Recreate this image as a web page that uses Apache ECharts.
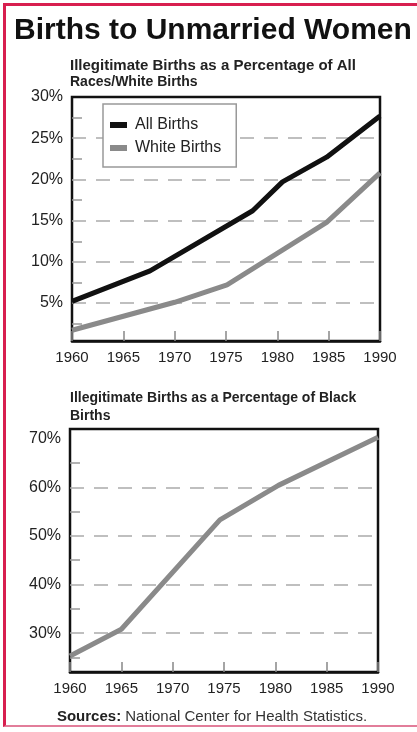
<!DOCTYPE html>
<html>
<head>
<meta charset="utf-8">
<title>Births to Unmarried Women</title>
<script src="https://cdn.jsdelivr.net/npm/echarts@6/dist/echarts.min.js"></script>
<style>
  html, body { margin: 0; padding: 0; background: #fff; }
  #frame {
    position: absolute; left: 3px; top: 3px; width: 414px; height: 724px;
    border-top: 3px solid #d81f4f; border-left: 3px solid #d81f4f;
    border-bottom: 2px solid #e27d9a; box-sizing: border-box;
  }
  #chart { position: absolute; left: 0; top: 0; width: 417px; height: 732px; }
</style>
</head>
<body>
<div id="frame"></div>
<div id="chart"></div>
<script>
// values
const years = [1960, 1965, 1970, 1975, 1980, 1985, 1990]

const allYears = [1960, 1967.6, 1977.6, 1980.5, 1984.8, 1990]
const allBirths = [5.2, 8.9, 16.2, 19.7, 22.7, 27.7]

const whiteYears = [1960, 1970, 1975.1, 1984.8, 1990]
const whiteBirths = [1.7, 5.1, 7.2, 14.8, 20.8]

const blackYears = [1960, 1965, 1974.6, 1980.3, 1990]
const blackBirths = [25.3, 30.8, 53.3, 60.4, 70.3]

const topLabels = [5, 10, 15, 20, 25, 30]
const topGrid = [5, 10, 15, 20, 25]
const topMinor = [2.5, 7.5, 12.5, 17.5, 22.5, 27.5]

const bottomLabels = [30, 40, 50, 60, 70]
const bottomGrid = [30, 40, 50, 60]
const bottomMinor = [25, 35, 45, 55, 65]

const FONT = "'Liberation Sans', Arial, sans-serif"
const pair = (xs, ys) => xs.map((x, i) => [x, ys[i]])

const chart = echarts.init(document.getElementById('chart'))

function xAxis(gridIndex) {
  return {
    type: 'value',
    gridIndex,
    min: 1960,
    max: 1990,
    interval: 5,
    axisLine: { show: true, lineStyle: { color: '#111', width: 2.5 } },
    axisTick: { show: true, inside: true, length: 10, lineStyle: { color: '#888', width: 1.5 } },
    axisLabel: {
      customValues: years,
      formatter: v => String(v),
      fontFamily: FONT, fontSize: 15, color: '#222', margin: 9
    },
    splitLine: { show: false }
  }
}

function yAxes(gridIndex, min, max, labels, lines, minor) {
  return [{
    type: 'value',
    gridIndex,
    position: 'left',
    min, max,
    axisLine: { show: false },
    axisTick: { show: false, customValues: lines },
    axisLabel: {
      customValues: labels,
      formatter: '{value}%',
      fontFamily: FONT, fontSize: 16, color: '#222', margin: 9
    },
    splitLine: { show: true, lineStyle: { color: '#aaa', width: 1.5, type: [14, 10] } }
  }, {
    // short marks halfway between the labelled values
    type: 'value',
    gridIndex,
    position: 'left',
    min, max,
    axisLine: { show: false },
    axisTick: { show: true, inside: true, length: 10, customValues: minor,
      lineStyle: { color: '#999', width: 1.5 } },
    axisLabel: { show: false },
    splitLine: { show: false }
  }]
}

const gridStyle = { show: true, borderColor: '#111', borderWidth: 2.5, backgroundColor: 'transparent' }

chart.setOption({
  animation: false,
  textStyle: { fontFamily: FONT },
  graphic: [
    { type: 'text', left: 14, top: 16,
      style: { text: 'Births to Unmarried Women', font: "bold 30px " + FONT, fill: '#111' } },
    { type: 'text', x: 70, y: 66,
      style: { text: 'Illegitimate Births as a Percentage of All', font: "bold 15px " + FONT, fill: '#222', verticalAlign: 'middle' } },
    { type: 'text', x: 70, y: 82,
      style: { text: 'Races/White Births', font: "bold 14px " + FONT, fill: '#222', verticalAlign: 'middle' } },
    { type: 'text', x: 70, y: 398,
      style: { text: 'Illegitimate Births as a Percentage of Black', font: "bold 14px " + FONT, fill: '#222', verticalAlign: 'middle' } },
    { type: 'text', x: 70, y: 416,
      style: { text: 'Births', font: "bold 14px " + FONT, fill: '#222', verticalAlign: 'middle' } },
    { type: 'text', x: 212, y: 717,
      style: {
        text: '{b|Sources:} National Center for Health Statistics.',
        font: "15px " + FONT, fill: '#333', align: 'center', verticalAlign: 'middle',
        rich: { b: { fontWeight: 'bold', fontSize: 15, fontFamily: FONT, fill: '#222' } }
      } }
  ],
  legend: {
    data: ['All Births', 'White Births'],
    orient: 'vertical',
    left: 103,
    top: 104,
    icon: 'rect',
    itemWidth: 17,
    itemHeight: 6,
    itemGap: 5,
    padding: [12, 15, 10, 7],
    backgroundColor: '#fff',
    borderColor: '#999',
    borderWidth: 1.5,
    borderRadius: 0,
    textStyle: { fontFamily: FONT, fontSize: 16, color: '#222', lineHeight: 18, padding: [0, 0, 0, 3] }
  },
  grid: [
    Object.assign({ left: 72, top: 97, width: 308, height: 244 }, gridStyle),
    Object.assign({ left: 70, top: 429, width: 308, height: 243 }, gridStyle)
  ],
  xAxis: [xAxis(0), xAxis(1)],
  yAxis: [
    ...yAxes(0, 0.4, 30, topLabels, topGrid, topMinor),
    ...yAxes(1, 22, 72, bottomLabels, bottomGrid, bottomMinor)
  ],
  series: [{
    name: 'All Births',
    type: 'line',
    xAxisIndex: 0, yAxisIndex: 0,
    data: pair(allYears, allBirths),
    symbol: 'none',
    lineStyle: { color: '#111', width: 5 },
    itemStyle: { color: '#111' },
    z: 3
  }, {
    name: 'White Births',
    type: 'line',
    xAxisIndex: 0, yAxisIndex: 0,
    data: pair(whiteYears, whiteBirths),
    symbol: 'none',
    lineStyle: { color: '#8a8a8a', width: 5 },
    itemStyle: { color: '#8a8a8a' },
    z: 3
  }, {
    name: 'Black Births',
    type: 'line',
    xAxisIndex: 1, yAxisIndex: 2,
    data: pair(blackYears, blackBirths),
    symbol: 'none',
    lineStyle: { color: '#8a8a8a', width: 5 },
    z: 3
  }]
})
</script>
</body>
</html>
